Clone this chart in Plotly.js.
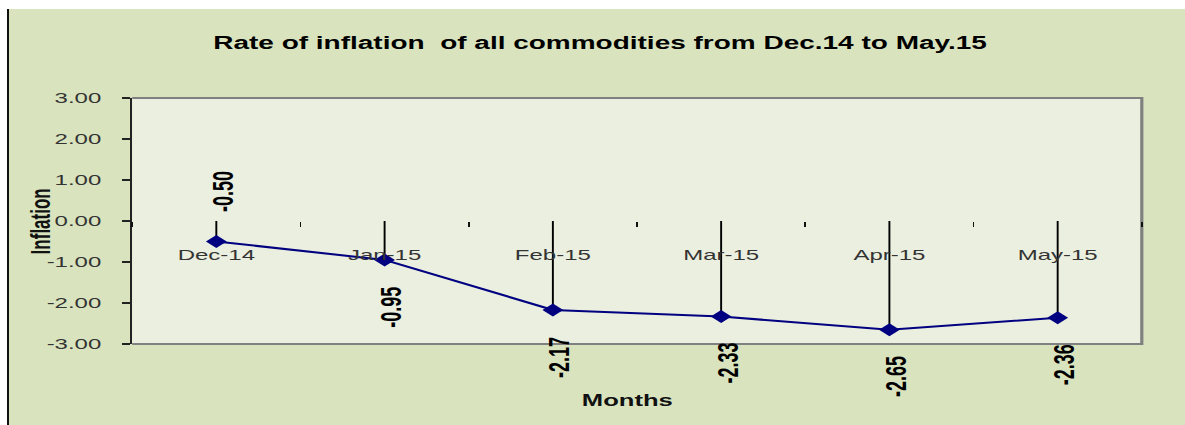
<!DOCTYPE html>
<html>
<head>
<meta charset="utf-8">
<script src="https://cdn.plot.ly/plotly-3.0.1.min.js"></script>
<style>
  html, body { margin: 0; padding: 0; background: #ffffff; width: 1185px; height: 425px; overflow: hidden; }
  #frame { position: absolute; left: 7px; top: 9px; width: 2px; height: 416px; background: #111; }
  #chart { position: absolute; left: 9px; top: 9px; width: 735px; height: 416px;
           transform: scaleX(1.6); transform-origin: 0 0; }
</style>
</head>
<body>
<div id="frame"></div>
<div id="chart"></div>
<script>
const months = ['Dec-14', 'Jan-15', 'Feb-15', 'Mar-15', 'Apr-15', 'May-15'];
const inflation = [-0.50, -0.95, -2.17, -2.33, -2.65, -2.36];
const yTicks = [-3, -2, -1, 0, 1, 2, 3];

const FONT = 'Liberation Sans, Arial, sans-serif';
const NAVY = '#000080';

const trace = {
  type: 'scatter',
  mode: 'lines+markers',
  x: months,
  y: inflation,
  line: { color: NAVY, width: 2 },
  marker: { symbol: 'diamond', size: 10, color: NAVY, line: { width: 0 } },
  error_y: {
    type: 'data',
    symmetric: false,
    array: inflation.map(v => (v < 0 ? -v : 0)),
    arrayminus: inflation.map(v => (v > 0 ? v : 0)),
    width: 0,
    thickness: 1.2,
    color: '#000000'
  },
  hoverinfo: 'skip',
  showlegend: false
};

const labelAnns = inflation.map((v, i) => ({
  x: months[i],
  y: v,
  xref: 'x',
  yref: 'y',
  text: '<b>' + v.toFixed(2) + '</b>',
  textangle: -90,
  showarrow: false,
  xanchor: 'center',
  yanchor: 'middle',
  xshift: 4,
  yshift: i === 0 ? 50 : -47,
  font: { family: FONT, size: 18, color: '#000000' }
}));

const layout = {
  width: 735,
  height: 416,
  margin: { l: 77, r: 27, t: 89, b: 81, pad: 0 },
  paper_bgcolor: '#D9E4BF',
  plot_bgcolor: '#EBEFDF',
  font: { family: FONT, color: '#333333' },
  title: {
    text: '<b>Rate of inflation\u00A0 of all commodities from Dec.14 to May.15</b>',
    font: { family: FONT, size: 17.5, color: '#000000' },
    xref: 'container', yref: 'container',
    x: 0.5026, y: 0.918, xanchor: 'center', yanchor: 'middle'
  },
  xaxis: {
    type: 'category',
    categoryorder: 'array',
    categoryarray: months,
    range: [-0.5, months.length - 0.5],
    anchor: 'free',
    position: 0.5,
    showline: false,
    showgrid: false,
    zeroline: false,
    ticks: 'outside',
    tickson: 'boundaries',
    ticklen: 5,
    tickwidth: 1,
    tickcolor: '#111111',
    ticklabelstandoff: 23,
    tickfont: { family: FONT, size: 15, color: '#333333' },
    automargin: false,
    fixedrange: true
  },
  yaxis: {
    range: [-3, 3],
    tickmode: 'array',
    tickvals: yTicks,
    ticktext: yTicks.map(t => t.toFixed(2)),
    showline: true,
    linecolor: '#222222',
    linewidth: 1.3,
    showgrid: false,
    zeroline: false,
    ticks: 'outside',
    ticklen: 5,
    tickwidth: 1.3,
    tickcolor: '#222222',
    ticklabelstandoff: 10,
    tickfont: { family: FONT, size: 15, color: '#333333' },
    automargin: false,
    fixedrange: true
  },
  shapes: [{
    type: 'path',
    xref: 'paper', yref: 'paper',
    path: 'M 0 1 L 1 1 L 1 0 L 0 0',
    line: { color: '#808080', width: 2 },
    layer: 'below'
  }],
  annotations: labelAnns.concat([
    {
      text: '<b>Months</b>',
      xref: 'paper', yref: 'paper',
      x: 0.490, y: -0.228,
      xanchor: 'center', yanchor: 'middle',
      showarrow: false,
      font: { family: FONT, size: 16, color: '#111111' }
    },
    {
      text: '<b>Inflation</b>',
      xref: 'paper', yref: 'paper',
      x: -0.0913, y: 0.5,
      xanchor: 'center', yanchor: 'middle',
      textangle: -90,
      showarrow: false,
      font: { family: FONT, size: 17, color: '#111111' }
    }
  ])
};

Plotly.newPlot('chart', [trace], layout, { staticPlot: true, displayModeBar: false });
</script>
</body>
</html>
